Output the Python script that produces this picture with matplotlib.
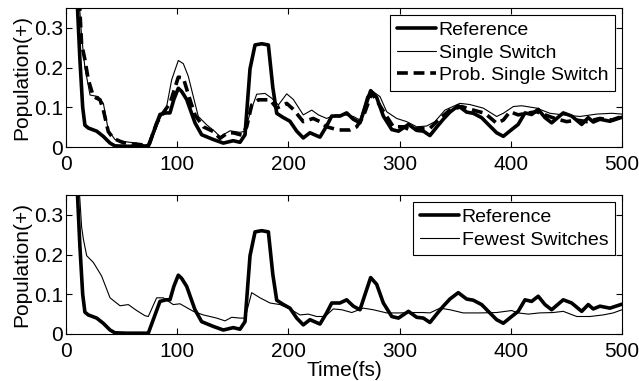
import matplotlib
matplotlib.use("Agg")
import matplotlib.pyplot as plt

plt.rcParams['font.family'] = ['Liberation Sans', 'DejaVu Sans']

# reference (exact) population, shown in both panels
t_ref = [10, 12.5, 15, 17, 20, 27.6, 33.5, 39.6, 44, 55, 65, 74, 79, 84.5, 90, 93.5, 97, 101, 104,
         108.5, 116, 122, 132.5, 141.5, 150.4, 156.5, 161, 165.5, 170, 176, 182, 186, 189.5, 195,
         201.4, 207.5, 213.4, 219.4, 228.4, 234.4, 239, 246.4, 252.4, 258.4, 264.4, 269, 274, 279.4,
         285.4, 293, 299, 308, 315.4, 321.4, 327.3, 334.8, 339.3, 345.3, 352.8, 360.3, 366.3, 373.8,
         379.8, 387.3, 393.3, 400.8, 406.7, 412.8, 418.8, 424.7, 430.8, 436.8, 447.2, 454.8, 463.8,
         469.7, 474.2, 480.2, 489.2, 500]
v_ref = [0.37, 0.22, 0.10, 0.055, 0.048, 0.04, 0.027, 0.01, 0.003, 0.002, 0.002, 0.002, 0.04, 0.082,
         0.086, 0.086, 0.12, 0.148, 0.14, 0.12, 0.061, 0.031, 0.019, 0.01, 0.016, 0.012, 0.031, 0.197,
         0.257, 0.26, 0.257, 0.15, 0.085, 0.075, 0.065, 0.04, 0.023, 0.036, 0.025, 0.053, 0.078, 0.078,
         0.086, 0.07, 0.061, 0.10, 0.142, 0.125, 0.078, 0.044, 0.04, 0.057, 0.042, 0.04, 0.029, 0.055,
         0.07, 0.088, 0.104, 0.088, 0.085, 0.074, 0.057, 0.036, 0.027, 0.044, 0.057, 0.086, 0.082,
         0.095, 0.074, 0.061, 0.086, 0.078, 0.057, 0.074, 0.063, 0.07, 0.065, 0.075]

# single switch
t_ss = [12, 14, 17, 21.6, 29, 33.6, 38, 44, 54.6, 63.6, 71, 76, 84.5, 90.5, 95, 101, 105.5, 110,
        114.5, 119, 126.5, 134, 138.5, 147.5, 156.5, 161, 165.5, 171.5, 179, 185, 191, 198.5, 204.4,
        213.4, 221, 227, 234.4, 242, 251, 258.4, 264.4, 270.4, 275, 282.4, 288.4, 297.4, 306.4,
        315.4, 324.4, 331.8, 340.8, 354.3, 363.3, 375.3, 387.3, 393.3, 402.3, 409.8, 423.3, 435.3,
        447.2, 462.2, 477.2, 490.7, 500]
v_ss = [0.36, 0.28, 0.2, 0.131, 0.127, 0.11, 0.043, 0.019, 0.013, 0.01, 0.005, 0.01, 0.072, 0.102,
        0.169, 0.218, 0.21, 0.178, 0.127, 0.077, 0.056, 0.039, 0.026, 0.041, 0.037, 0.04, 0.085,
        0.133, 0.135, 0.123, 0.106, 0.134, 0.12, 0.081, 0.093, 0.081, 0.072, 0.081, 0.081, 0.077,
        0.068, 0.127, 0.142, 0.127, 0.089, 0.072, 0.064, 0.051, 0.053, 0.064, 0.093, 0.11, 0.107,
        0.098, 0.077, 0.085, 0.102, 0.104, 0.098, 0.085, 0.081, 0.077, 0.083, 0.085, 0.083]

# probabilistic single switch
t_pss = [12, 14, 17, 20, 24.6, 30.6, 33.6, 38, 42.5, 51.5, 60.5, 71, 75, 81.5, 86, 93.5, 101, 105.5,
         111.5, 116, 123.5, 132.5, 138.5, 144.5, 150.4, 158, 162.5, 167, 173, 183.5, 189.5, 198.5,
         204.4, 213.4, 222.4, 228.4, 234.4, 245, 255.4, 261.4, 267.4, 275, 281, 288.4, 294.4, 303.4,
         309.4, 318.4, 327.3, 336.3, 345.3, 355.8, 366.3, 376.8, 387.3, 393.3, 399.3, 406.7, 414,
         423.3, 430.8, 439.7, 450.2, 459.3, 468.3, 480.2, 490.7, 500]
v_pss = [0.37, 0.26, 0.22, 0.17, 0.127, 0.119, 0.093, 0.039, 0.022, 0.011, 0.008, 0.005, 0.008, 0.06,
         0.081, 0.11, 0.176, 0.174, 0.119, 0.081, 0.051, 0.039, 0.022, 0.034, 0.036, 0.03, 0.051,
         0.106, 0.119, 0.119, 0.098, 0.11, 0.095, 0.064, 0.072, 0.064, 0.051, 0.043, 0.043, 0.051,
         0.077, 0.136, 0.11, 0.077, 0.051, 0.051, 0.043, 0.047, 0.047, 0.072, 0.093, 0.102, 0.093,
         0.085, 0.06, 0.068, 0.089, 0.081, 0.085, 0.089, 0.081, 0.072, 0.064, 0.068, 0.064, 0.072,
         0.068, 0.077]

# fewest switches
t_fs = [12, 14, 15.6, 18.6, 24.6, 32, 39.6, 48.6, 56, 63.6, 71, 74, 81.5, 87.5, 96.5, 102.5, 114.5,
        123.5, 135.5, 143, 149, 156.5, 161, 167, 174.5, 183.5, 192.4, 201.4, 210.4, 218, 225.5,
        232.9, 240.4, 248, 257, 267.4, 276.4, 288.4, 300.4, 309.4, 321.4, 327.3, 336.3, 345.3,
        357.3, 372.3, 387.3, 400.8, 406.7, 415.8, 425.7, 438.2, 447.2, 459.3, 471.2, 483.2, 492.2, 500]
v_fs = [0.36, 0.27, 0.239, 0.197, 0.18, 0.146, 0.091, 0.071, 0.074, 0.059, 0.046, 0.044, 0.091,
        0.091, 0.074, 0.076, 0.057, 0.048, 0.04, 0.033, 0.042, 0.04, 0.04, 0.104, 0.091, 0.078,
        0.074, 0.063, 0.048, 0.05, 0.044, 0.044, 0.063, 0.061, 0.054, 0.065, 0.061, 0.053, 0.053,
        0.054, 0.054, 0.053, 0.065, 0.061, 0.053, 0.053, 0.054, 0.059, 0.053, 0.05, 0.053, 0.054,
        0.057, 0.044, 0.044, 0.048, 0.053, 0.061]

xticks = [0, 100, 200, 300, 400, 500]
yticks = [0, 0.1, 0.2, 0.3]
ytick_labels = ['0', '0.1', '0.2', '0.3']

fig = plt.figure(figsize=(6.39, 3.81), dpi=100)
ax1 = fig.add_axes([0.1033, 0.614, 0.870, 0.365])
ax2 = fig.add_axes([0.1033, 0.1234, 0.870, 0.365])

thick = 2.6
thin = 0.8
kw = dict(solid_joinstyle='round', solid_capstyle='round')

ax1.plot(t_ref, v_ref, 'k-', lw=thick, label='Reference', **kw)
ax1.plot(t_ss, v_ss, 'k-', lw=thin, label='Single Switch', **kw)
ax1.plot(t_pss, v_pss, 'k', lw=thick, ls=(0, (3, 1.6)), label='Prob. Single Switch')

ax2.plot(t_ref, v_ref, 'k-', lw=thick, label='Reference', **kw)
ax2.plot(t_fs, v_fs, 'k-', lw=thin, label='Fewest Switches', **kw)

for ax in (ax1, ax2):
    ax.set_xlim(0, 500)
    ax.set_ylim(0, 0.35)
    ax.set_xticks(xticks)
    ax.set_yticks(yticks)
    ax.set_yticklabels(ytick_labels)
    ax.tick_params(direction='in', top=True, right=True, labelsize=15, length=4)
    ax.tick_params(axis='x', pad=6)
    ax.tick_params(axis='y', pad=2)
    ax.set_ylabel('Population(+)', fontsize=15, labelpad=2)
    for s in ax.spines.values():
        s.set_linewidth(0.8)
    leg = ax.legend(loc='upper right', fontsize=14, frameon=True, fancybox=False,
                    edgecolor='black', framealpha=1, borderaxespad=0.35, borderpad=0.35,
                    handlelength=2.0, handletextpad=0.15, labelspacing=0.25)
    leg.get_frame().set_linewidth(0.8)

ax2.set_xlabel('Time(fs)', fontsize=15, labelpad=0)

fig.savefig('out.png', dpi=100)
